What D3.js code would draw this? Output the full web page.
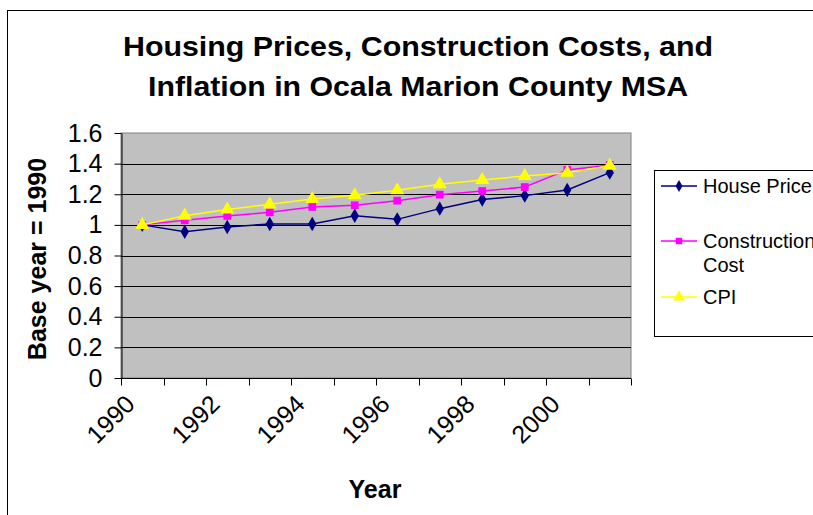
<!DOCTYPE html>
<html><head><meta charset="utf-8">
<script src="https://cdn.jsdelivr.net/npm/d3@7"></script>
<style>body{margin:0;background:#fff}svg{display:block}</style>
</head><body>
<svg id="c" width="813" height="515"></svg>
<script>
const years = [1990,1991,1992,1993,1994,1995,1996,1997,1998,1999,2000,2001];
const housePrice = [1.0,0.955,0.986,1.006,1.006,1.06,1.036,1.106,1.165,1.191,1.228,1.341];
const constructionCost = [1.0,1.03,1.058,1.082,1.117,1.128,1.158,1.197,1.221,1.247,1.359,1.391];
const cpi = [1.0,1.06,1.10,1.134,1.169,1.193,1.226,1.265,1.293,1.319,1.34,1.387];
const yTicks = [0,0.2,0.4,0.6,0.8,1,1.2,1.4,1.6];
const xTickLabels = ["1990","1992","1994","1996","1998","2000"];
const titleLines = ["Housing Prices, Construction Costs, and","Inflation in Ocala Marion County MSA"];

const svg = d3.select("#c");
const font = "'Liberation Sans', Arial, sans-serif";
// outer chart border
svg.append("rect").attr("x",7.5).attr("y",10.5).attr("width",900).attr("height",600)
  .attr("fill","none").attr("stroke","#000");

const L=121, R=631, T=133, B=378;
const x = d3.scaleBand().domain(years).range([L,R]);
const y = d3.scaleLinear().domain([0,1.6]).range([B,T]);

svg.append("rect").attr("x",L).attr("y",T).attr("width",R-L).attr("height",B-T)
  .attr("fill","#C0C0C0").attr("stroke","#808080");

svg.append("g").selectAll("line").data(yTicks.slice(1,-1)).join("line")
  .attr("x1",L).attr("x2",R).attr("y1",d=>Math.round(y(d))+0.5).attr("y2",d=>Math.round(y(d))+0.5)
  .attr("stroke","#000");

// y axis
const ya = svg.append("g").attr("transform",`translate(${L+0.5},0)`)
  .call(d3.axisLeft(y).tickValues(yTicks).tickFormat(d=>String(+d.toFixed(1))).tickSize(7).tickPadding(12).tickSizeOuter(0));
ya.select(".domain").attr("stroke","#000");
ya.selectAll("text").attr("font-family",font).attr("font-size",25).attr("fill","#000");

// x axis
const xa = svg.append("g").attr("transform",`translate(0,${B+0.5})`);
xa.append("line").attr("x1",L).attr("x2",R).attr("stroke","#000");
const edges = years.map(d=>x(d)).concat([R]);
xa.selectAll("line.t").data(edges).join("line").attr("class","t")
  .attr("x1",d=>Math.round(d)+0.5).attr("x2",d=>Math.round(d)+0.5).attr("y1",0).attr("y2",7).attr("stroke","#000");
xa.selectAll("text").data(xTickLabels).join("text")
  .attr("transform",d=>`translate(${x(+d)+x.bandwidth()/2-12},${21}) rotate(-45)`)
  .attr("text-anchor","end").attr("dy","0.35em")
  .attr("font-family",font).attr("font-size",25).text(d=>d);

// titles
const tLen=[590,540];
svg.append("g").selectAll("text").data(titleLines).join("text")
  .attr("x",(d,i)=>418-tLen[i]/2).attr("y",(d,i)=>56+i*40)
  .attr("textLength",(d,i)=>tLen[i]).attr("lengthAdjust","spacingAndGlyphs")
  .attr("font-family",font).attr("font-weight","bold").attr("font-size",28).text(d=>d);
svg.append("text").attr("transform","translate(46,259) rotate(-90)").attr("text-anchor","middle")
  .attr("font-family",font).attr("font-weight","bold").attr("font-size",25).text("Base year = 1990");
svg.append("text").attr("x",375).attr("y",498).attr("text-anchor","middle")
  .attr("font-family",font).attr("font-weight","bold").attr("font-size",25).text("Year");

const series = [
  {name:"House Price", values:housePrice, color:"#000080", sym:d3.symbolDiamond, size:60},
  {name:"Construction Cost", values:constructionCost, color:"#FF00FF", sym:d3.symbolSquare, size:60},
  {name:"CPI", values:cpi, color:"#FFFF00", sym:d3.symbolTriangle, size:85}
];
const cx = d=>x(d)+x.bandwidth()/2;
const line = d3.line().x((d,i)=>cx(years[i])).y(d=>y(d));
series.forEach(s=>{
  svg.append("path").datum(s.values).attr("d",line).attr("fill","none").attr("stroke",s.color).attr("stroke-width",1.5);
  svg.append("g").selectAll("path").data(s.values).join("path")
    .attr("transform",(d,i)=>`translate(${cx(years[i])},${y(d)})`)
    .attr("d",d3.symbol().type(s.sym).size(s.size)).attr("fill",s.color);
});

// legend
const lg = svg.append("g");
lg.append("rect").attr("x",654.5).attr("y",170.5).attr("width",200).attr("height",166).attr("fill","#fff").attr("stroke","#000");
const legRows = [{s:series[0],y:186,lines:["House Price"]},{s:series[1],y:241,lines:["Construction","Cost"]},{s:series[2],y:297,lines:["CPI"]}];
legRows.forEach(r=>{
  lg.append("line").attr("x1",661).attr("x2",697).attr("y1",r.y).attr("y2",r.y).attr("stroke",r.s.color).attr("stroke-width",1.5);
  lg.append("path").attr("transform",`translate(679,${r.y})`).attr("d",d3.symbol().type(r.s.sym).size(r.s.size*0.7)).attr("fill",r.s.color);
  r.lines.forEach((t,i)=>lg.append("text").attr("x",703).attr("y",r.y+7+i*24)
    .attr("font-family",font).attr("font-size",20).text(t));
});
</script>
</body></html>
